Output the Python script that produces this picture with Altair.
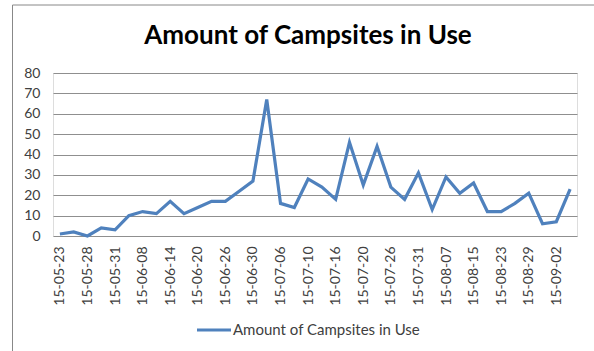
import altair as alt
import pandas as pd

dates = ["15-05-23", "15-05-25", "15-05-28", "15-05-30", "15-05-31", "15-06-04",
         "15-06-08", "15-06-11", "15-06-14", "15-06-17", "15-06-20", "15-06-23",
         "15-06-26", "15-06-28", "15-06-30", "15-07-03", "15-07-06", "15-07-08",
         "15-07-10", "15-07-13", "15-07-16", "15-07-18", "15-07-20", "15-07-23",
         "15-07-26", "15-07-29", "15-07-31", "15-08-04", "15-08-07", "15-08-11",
         "15-08-15", "15-08-19", "15-08-23", "15-08-26", "15-08-29", "15-08-31",
         "15-09-02", "15-09-05"]
values = [1, 2, 0, 4, 3, 10, 12, 11, 17, 11, 14, 17, 17, 22, 27, 67, 16, 14, 28, 24,
          18, 46, 25, 44, 24, 18, 31, 13, 29, 21, 26, 12, 12, 16, 21, 6, 7, 23]
labeled_dates = dates[::2]
series_name = "Amount of Campsites in Use"
y_ticks = [0, 10, 20, 30, 40, 50, 60, 70, 80]

df = pd.DataFrame({"date": dates, "value": values, "series": series_name})

FONT = "Lato"

line = alt.Chart(df).mark_line(strokeWidth=3.2, clip=False).encode(
    x=alt.X("date:N", sort=dates,
            scale=alt.Scale(type="point", padding=0.5),
            axis=alt.Axis(values=labeled_dates, title=None, labelAngle=-90,
                          labelAlign="right", labelBaseline="middle",
                          labelPadding=10, ticks=False, domain=False, grid=False,
                          labelFont=FONT, labelFontSize=14, labelColor="#404040")),
    y=alt.Y("value:Q", scale=alt.Scale(domain=[0, 80], nice=False),
            axis=alt.Axis(values=y_ticks, title=None, ticks=False, domain=False,
                          grid=True, gridColor="#8f8f8f", gridWidth=1,
                          labelPadding=13, labelFont=FONT, labelFontSize=14,
                          labelColor="#404040")),
    color=alt.Color("series:N", scale=alt.Scale(range=["#4F81BD"]),
                    legend=alt.Legend(title=None, orient="none", legendX=142,
                                      legendY=238, symbolType="stroke",
                                      symbolSize=1156, symbolStrokeWidth=3.2,
                                      labelFont=FONT, labelFontSize=15,
                                      labelLimit=400,
                                      labelColor="#404040", labelOffset=0)),
)

border_df = pd.DataFrame({"k": [0]})
left_border = alt.Chart(border_df).mark_rule(color="#888888", strokeWidth=1, clip=False).encode(
    x=alt.value(-40.5), y=alt.value(-68), y2=alt.value(280))
top_border = alt.Chart(border_df).mark_rule(color="#888888", strokeWidth=1, clip=False).encode(
    x=alt.value(-40.5), x2=alt.value(545), y=alt.value(-68))

chart = alt.layer(left_border, top_border, line).properties(
    width=524, height=163,
    title=alt.TitleParams(text="Amount of Campsites in Use", font=FONT, fontSize=26,
                          fontWeight="bold", color="#000000", anchor="middle",
                          dx=-7, offset=-44),
    autosize=alt.AutoSizeParams(type="none"),
    padding={"left": 53, "top": 73, "right": 17, "bottom": 115},
).configure_view(stroke=None).configure(background="white")

chart.save("out.html", embed_options={"renderer": "svg", "actions": False})
